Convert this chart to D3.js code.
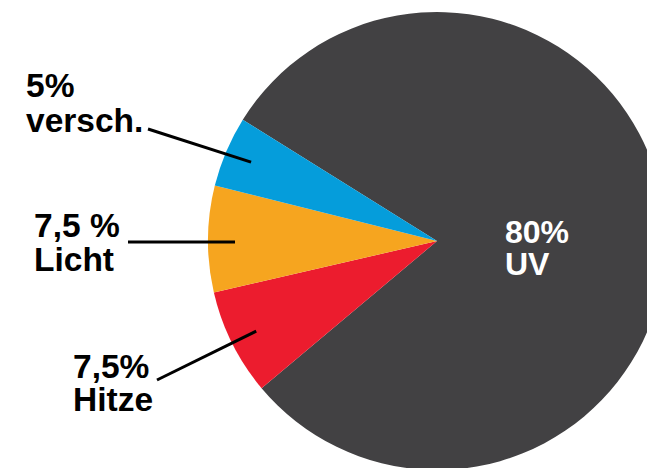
<!DOCTYPE html>
<html><head><meta charset="utf-8">
<script src="https://cdn.jsdelivr.net/npm/d3@7"></script>
<style>html,body{margin:0;padding:0;background:#fff;overflow:hidden}</style>
</head><body>
<svg id="chart" width="647" height="468"></svg>
<script>
// Data
const categories = ["UV", "Hitze", "Licht", "versch."];
const values = [80, 7.5, 7.5, 5];
const percentLabels = ["80%", "7,5%", "7,5 %", "5%"];
const colors = ["#424143", "#ec1c2e", "#f6a51f", "#059ddb"];

// Layout (not data)
const W = 647, H = 468;
const cx = 437, cy = 241, R = 229;
const startDeg = -58;
// outside label placement
const labelLayout = {
  "Hitze":   {x: 73, y: 378, gap: 33, lx: 157, ly: 380},
  "Licht":   {x: 34, y: 237, gap: 34, lx: 128, ly: 242},
  "versch.": {x: 26, y: 97,  gap: 35, lx: 148, ly: 129}
};

const svg = d3.select("#chart");
const g = svg.append("g").attr("transform", `translate(${cx},${cy})`);

const start = startDeg * Math.PI / 180;
const pie = d3.pie().sort(null).value(d => d.v).startAngle(start).endAngle(start + 2 * Math.PI);
const data = categories.map((c, i) => ({c, v: values[i], p: percentLabels[i], col: colors[i]}));
const arcs = pie(data);
const arc = d3.arc().innerRadius(0).outerRadius(R);

g.selectAll("path.slice").data(arcs).enter().append("path")
  .attr("class", "slice")
  .attr("d", arc)
  .attr("fill", d => d.data.col);

const font = "'Liberation Sans', Arial, Helvetica, sans-serif";

// Inside label for UV
const uv = arcs[0];
g.append("text").attr("x", 505 - cx).attr("y", 243 - cy)
  .attr("font-family", font).attr("font-weight", "bold").attr("font-size", 32)
  .attr("fill", "#fff").text(uv.data.p);
g.append("text").attr("x", 505 - cx).attr("y", 275 - cy)
  .attr("font-family", font).attr("font-weight", "bold").attr("font-size", 32)
  .attr("fill", "#fff").text(uv.data.c);

// Outside labels with leader lines
arcs.slice(1).forEach(a => {
  const L = labelLayout[a.data.c];
  const mid = (a.startAngle + a.endAngle) / 2;
  const r0 = 202;
  const ix = cx + r0 * Math.sin(mid), iy = cy - r0 * Math.cos(mid);
  svg.append("line")
    .attr("x1", L.lx).attr("y1", L.ly).attr("x2", ix).attr("y2", a.data.c === "Licht" ? L.ly : iy)
    .attr("stroke", "#000").attr("stroke-width", 3);
  svg.append("text").attr("x", L.x).attr("y", L.y)
    .attr("font-family", font).attr("font-weight", "bold").attr("font-size", 33.5)
    .attr("fill", "#000").text(a.data.p);
  svg.append("text").attr("x", L.x).attr("y", L.y + L.gap)
    .attr("font-family", font).attr("font-weight", "bold").attr("font-size", 33.5)
    .attr("fill", "#000").text(a.data.c);
});
</script>
</body></html>
